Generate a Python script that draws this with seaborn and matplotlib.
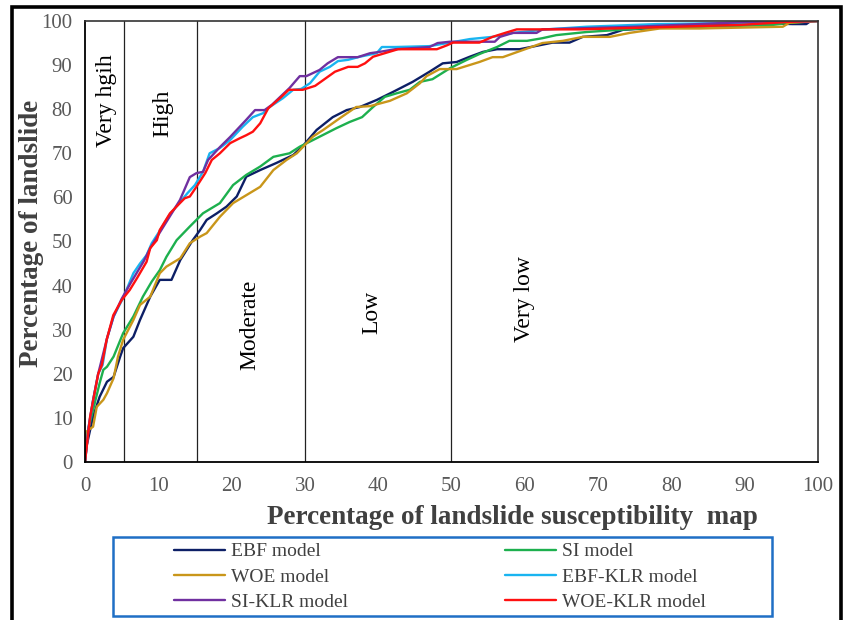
import matplotlib
matplotlib.use("Agg")
import matplotlib.pyplot as plt
import matplotlib.patches as mpatches
import seaborn as sns
import numpy as np

# ---------------- data ----------------
ebf_x = [0, 0.2, 1.1, 2.0, 3.0, 3.9, 4.8, 5.2, 6.6, 7.5, 8.9, 10.2, 11.8, 13.0, 14.7, 15.7, 16.6, 18.0, 19.3,
         20.7, 22.0, 23.9, 26.1, 28.4, 29.7, 31.6, 33.8, 35.7, 37.5, 39.8, 42.0, 44.7, 47.0, 48.8, 50.7, 52.5,
         54.3, 56.2, 59.3, 62.0, 63.8, 66.1, 67.9, 71.2, 73.4, 82.5, 90.7, 96.5, 98.4, 99.0, 100]
ebf_y = [0, 3.5, 10.3, 14.8, 18.2, 19.3, 23.9, 25.8, 28.4, 32.2, 37.5, 41.3, 41.3, 45.8, 50.3, 52.6, 54.9, 56.4,
         57.9, 60.2, 64.7, 66.2, 67.8, 69.6, 71.6, 75.3, 78.2, 79.8, 80.5, 82.1, 83.9, 86.2, 88.5, 90.4, 90.7,
         91.9, 93.0, 93.6, 93.6, 94.5, 95.1, 95.1, 96.4, 96.8, 98.0, 98.9, 99.6, 99.3, 99.3, 100, 100]

si_x = [0, 0.2, 1.1, 2.0, 2.5, 3.0, 3.9, 5.2, 6.6, 7.9, 9.1, 10.2, 11.1, 12.5, 14.3, 16.1, 18.4, 20.2, 22.0,
        23.9, 25.7, 27.9, 29.3, 31.1, 34.3, 36.1, 37.8, 39.3, 40.9, 42.5, 44.3, 45.7, 47.4, 49.8, 52.1, 53.8,
        56.2, 57.9, 60.3, 62.4, 64.3, 68.4, 75.7, 93.8, 96.1, 100]
si_y = [0, 5.7, 11.8, 17.9, 20.9, 21.6, 23.9, 29.2, 33.0, 37.5, 40.9, 43.5, 46.5, 50.3, 53.4, 56.4, 58.7, 62.8,
        65.1, 67.0, 69.2, 70.0, 71.5, 73.0, 75.7, 77.1, 78.2, 80.5, 82.8, 83.6, 84.4, 86.2, 86.8, 89.3, 91.2,
        92.5, 94.1, 95.5, 95.5, 96.1, 96.8, 97.5, 98.3, 99.1, 99.6, 100]

woe_x = [0, 0.2, 1.1, 1.6, 2.5, 3.0, 3.9, 4.5, 5.2, 6.6, 7.5, 8.9, 10.2, 11.1, 13.0, 14.3, 15.7, 16.6, 18.4,
         20.2, 22.0, 23.9, 25.7, 27.5, 28.9, 31.1, 32.5, 34.8, 37.0, 38.9, 41.6, 43.9, 45.7, 46.6, 48.4, 50.7,
         53.8, 55.6, 57.0, 59.7, 62.4, 65.2, 67.9, 71.6, 74.3, 78.4, 83.8, 95.2, 96.1, 100]
woe_y = [0, 6.9, 8.0, 12.5, 14.1, 15.6, 19.0, 23.9, 27.7, 32.2, 35.6, 37.5, 42.8, 44.3, 46.2, 49.6, 51.1, 51.9,
         55.6, 58.7, 60.5, 62.4, 66.2, 68.5, 70.0, 73.8, 75.3, 78.0, 80.5, 80.7, 81.9, 83.6, 85.9, 87.5, 89.1,
         89.1, 90.7, 91.8, 91.8, 93.4, 95.0, 95.5, 96.4, 96.4, 97.3, 98.3, 98.3, 98.7, 99.6, 100]

ebfklr_x = [0, 0.5, 1.1, 1.8, 2.4, 3.0, 3.9, 5.2, 6.6, 7.5, 8.4, 9.1, 10.0, 11.5, 13.0, 14.0, 15.0, 16.1, 17.0,
            18.4, 19.8, 21.5, 22.9, 24.3, 25.2, 27.0, 28.4, 29.5, 30.7, 32.0, 33.4, 34.5, 35.9, 37.5, 39.8,
            40.5, 42.3, 47.0, 49.8, 52.5, 55.6, 58.4, 63.0, 68.4, 78.0, 90.0, 100]
ebfklr_y = [0, 8.0, 14.0, 20.0, 22.0, 28.0, 33.0, 37.2, 42.8, 45.0, 46.9, 49.6, 51.9, 56.0, 59.0, 61.0, 62.8,
            65.8, 70.0, 71.2, 73.0, 76.0, 78.2, 79.1, 80.5, 82.5, 84.4, 84.6, 85.9, 88.5, 89.6, 90.9, 91.2, 91.9,
            92.7, 94.1, 94.1, 94.3, 95.1, 95.9, 96.4, 97.3, 98.1, 98.7, 99.3, 99.6, 100]

siklr_x = [0, 0.5, 1.1, 1.8, 2.4, 3.0, 3.9, 5.0, 6.2, 7.1, 8.0, 8.9, 10.0, 11.5, 12.95, 14.3, 15.2, 16.1, 16.8,
           18.4, 19.8, 21.1, 22.0, 23.2, 24.5, 25.5, 27.9, 29.3, 30.2, 32.0, 33.1, 34.5, 37.2, 38.9, 40.2, 42.3,
           47.0, 48.1, 49.8, 55.9, 56.6, 58.4, 61.6, 62.4, 75.0, 90.7, 100]
siklr_y = [0, 8.0, 14.0, 20.0, 24.0, 28.0, 33.0, 37.0, 40.5, 43.0, 45.5, 48.5, 51.5, 55.5, 59.4, 64.6, 65.5,
           65.8, 68.5, 71.4, 73.7, 76.0, 77.6, 79.8, 79.8, 81.0, 84.8, 87.5, 87.5, 88.9, 90.4, 91.8, 91.8, 92.7,
           93.0, 93.6, 94.1, 95.0, 95.3, 95.3, 96.4, 97.3, 97.3, 98.1, 98.7, 99.8, 100]

woeklr_x = [0, 0.7, 1.8, 2.3, 2.95, 3.86, 5.0, 6.1, 7.1, 8.4, 8.9, 9.8, 10.2, 11.6, 12.95, 13.6, 14.3, 15.2,
            16.4, 17.3, 18.4, 19.8, 21.1, 22.0, 22.9, 23.9, 25.0, 26.6, 27.8, 29.7, 31.4, 32.5, 34.1, 35.9, 37.2,
            38.2, 39.3, 40.9, 42.7, 48.0, 49.4, 50.2, 53.8, 55.6, 57.5, 58.9, 67.5, 89.3, 96.0, 100]
woeklr_y = [0, 10.3, 20.0, 22.0, 27.7, 33.3, 36.7, 39.0, 41.7, 45.4, 48.5, 50.3, 52.6, 56.4, 58.7, 59.8, 60.2,
            62.4, 65.5, 68.5, 70.0, 72.3, 73.4, 74.1, 74.9, 76.8, 80.2, 82.5, 84.4, 84.4, 85.3, 86.6, 88.5, 89.6,
            89.6, 90.4, 91.9, 92.7, 93.6, 93.6, 94.5, 95.1, 95.1, 96.4, 97.4, 98.1, 98.1, 99.1, 99.8, 100]

series_names = ["EBF model", "SI model", "WOE model", "EBF-KLR model", "SI-KLR model", "WOE-KLR model"]
series_x = [ebf_x, si_x, woe_x, ebfklr_x, siklr_x, woeklr_x]
series_y = [ebf_y, si_y, woe_y, ebfklr_y, siklr_y, woeklr_y]
series_colors = ["#0d1f66", "#1db04e", "#c9961a", "#19b4f0", "#7030a0", "#ff1010"]

zone_bounds = [5.3, 15.3, 30, 50]
zone_labels = ["Very hgih", "High", "Moderate", "Low", "Very low"]
zone_label_x = [2.9, 10.6, 22.5, 39.1, 60.0]
zone_label_y = [82, 79, 31, 34, 37]

x_ticks = list(range(0, 101, 10))
y_ticks = list(range(0, 101, 10))

# ---------------- style ----------------
sns.set_style("white")
plt.rcParams['font.family'] = ['Liberation Serif', 'DejaVu Serif']

fig = plt.figure(figsize=(8.45, 6.2), dpi=100)
ax = fig.add_axes([85 / 845, 1 - 462 / 620, (818 - 85) / 845, (462 - 21) / 620])

for xs, ys, name, col in zip(series_x, series_y, series_names, series_colors):
    sns.lineplot(x=xs, y=ys, ax=ax, color=col, linewidth=1.7, label=name,
                 estimator=None, sort=False)

for b in zone_bounds:
    ax.axvline(b, color="#222222", linewidth=0.9, zorder=1)

for lab, lx, ly in zip(zone_labels, zone_label_x, zone_label_y):
    ax.text(lx, ly, lab, rotation=90, ha="center", va="center", fontsize=17, color="black")

ax.set_xlim(0, 100)
ax.set_ylim(0, 100)
ax.set_xticks(x_ticks)
ax.set_yticks(y_ticks)
ax.tick_params(axis="both", direction="out", length=4, width=1, color="black",
               labelsize=15, labelcolor="#595959")
ax.tick_params(axis="x", pad=7)
ax.tick_params(axis="y", pad=5)
for s in ["left", "bottom"]:
    ax.spines[s].set_color("black")
    ax.spines[s].set_linewidth(1.3)
for s in ["top", "right"]:
    ax.spines[s].set_color("#333333")
    ax.spines[s].set_linewidth(1.2)
ax.grid(False)

ax.set_xlabel("Percentage of landslide susceptibility  map", fontsize=19.5, fontweight="bold",
              color="#404040")
ax.set_ylabel("Percentage of landslide", fontsize=19.5, fontweight="bold", color="#404040")
ax.xaxis.label.set_va("center")
ax.xaxis.set_label_coords((512 - 85) / 733, -(517 - 462) / 441)
ax.yaxis.label.set_va("center")
ax.yaxis.set_label_coords(-(85 - 31) / 733, (462 - 233) / 441)

# legend (row-major order)
handles, labels = ax.get_legend_handles_labels()
order = [0, 2, 4, 1, 3, 5]
if ax.get_legend():
    ax.get_legend().remove()
leg = fig.legend([handles[i] for i in order], [labels[i] for i in order], ncol=2,
                 loc="center", bbox_to_anchor=(440 / 845, 1 - 577 / 620), frameon=False,
                 fontsize=14, handlelength=2.6, handletextpad=0.3, columnspacing=8.1,
                 labelspacing=0.4)
for t in leg.get_texts():
    t.set_color("#404040")

# legend box
fig.patches.append(mpatches.Rectangle((113 / 845, 1 - 616 / 620), (772 - 113) / 845, (616 - 537) / 620,
                                      transform=fig.transFigure, fill=False, edgecolor="#1f6fc5",
                                      linewidth=1.8, zorder=5))
# outer frame
fig.patches.append(mpatches.Rectangle((12 / 845, -0.02), (841 - 12) / 845, 1 - 7 / 620 + 0.02,
                                      transform=fig.transFigure, fill=False, edgecolor="black",
                                      linewidth=2.6, zorder=5))

fig.savefig("out.png", dpi=100)
